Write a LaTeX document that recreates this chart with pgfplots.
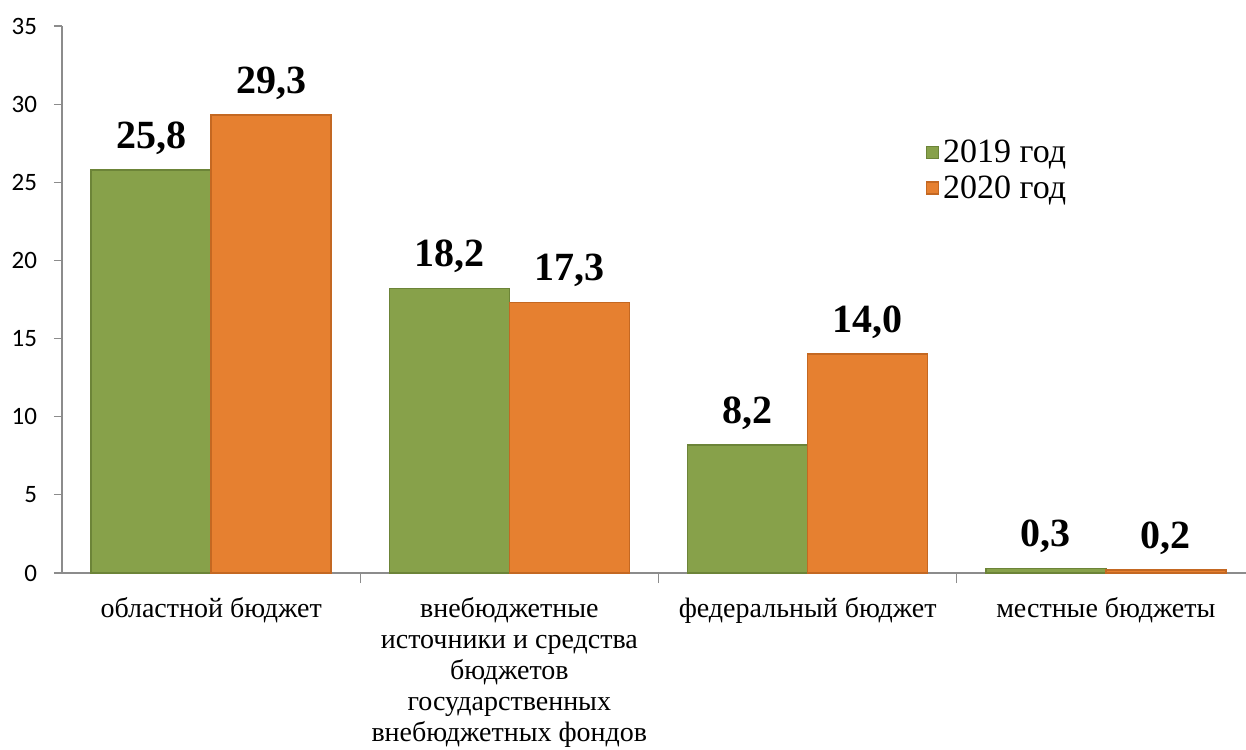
\documentclass[border=0pt]{standalone}
\usepackage{pgfplots}
\pgfplotsset{compat=1.18}
\usepackage{fontspec}
\setmainfont{Liberation Serif}
\newfontfamily\tickfont{Carlito}
\definecolor{gfill}{RGB}{135,161,74}
\definecolor{gdraw}{RGB}{108,132,56}
\definecolor{ofill}{RGB}{230,128,48}
\definecolor{odraw}{RGB}{196,104,34}
\definecolor{axgray}{RGB}{140,140,140}
\begin{document}
\begin{tikzpicture}
\begin{axis}[
  at={(0,0)}, anchor=south west,
  scale only axis,
  width=592pt, height=273.5pt,
  xmin=-0.5, xmax=3.47, ymin=0, ymax=35,
  axis lines*=left,
  axis line style={axgray, line width=0.6pt},
  clip=false,
  ybar=0pt, bar width=60pt,
  ytick={0,5,...,35},
  yticklabel style={font=\tickfont\fontsize{12.5}{14}\selectfont, xshift=-5pt,
    /pgf/number format/fixed zerofill=false, /pgf/number format/precision=0},
  ytick style={axgray, line width=0.6pt},
  tick align=outside,
  major tick length=4pt,
  xtick={0,1,2,3},
  xticklabels={областной бюджет,{внебюджетные\\источники и средства\\бюджетов\\государственных\\внебюджетных фондов},федеральный бюджет,местные бюджеты},
  xticklabel style={font=\fontsize{14}{15.6}\selectfont, align=center, yshift=-4.5pt},
  x tick style={draw=none},
  extra x ticks={0.5,1.5,2.5},
  extra x tick labels={},
  extra x tick style={x tick style={draw=axgray, line width=0.6pt}, major tick length=5pt},
  nodes near coords,
  every node near coord/.append style={font=\fontsize{20}{24}\selectfont\bfseries, yshift=4pt, black},
  /pgf/number format/.cd, use comma, fixed, fixed zerofill, precision=1, assume math mode=true,
  /pgfplots/.cd,
  legend style={at={(0.729,0.80)}, anchor=north west, draw=none, fill=none,
    font=\fontsize{17}{19}\selectfont, row sep=1pt, inner sep=0pt,
    /tikz/every even column/.append style={column sep=6pt}},
  legend cell align=left,
  legend image code/.code={\fill[#1] (0pt,-3pt) rectangle (6pt,3pt);},
]
\addplot[fill=gfill, draw=gdraw, line width=0.8pt] coordinates {(0,25.8) (1,18.2) (2,8.2) (3,0.3)};
\addplot[fill=ofill, draw=odraw, line width=0.8pt] coordinates {(0,29.3) (1,17.3) (2,14.0) (3,0.2)};
\legend{2019 год, 2020 год}
\end{axis}
\pgfresetboundingbox
\path (-31pt,-88pt) rectangle (592pt,286.5pt);
\end{tikzpicture}
\end{document}
